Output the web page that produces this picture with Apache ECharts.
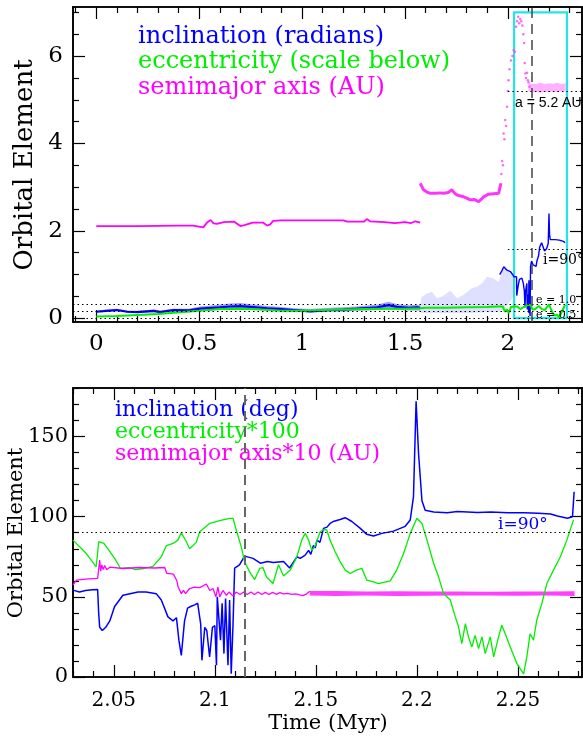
<!DOCTYPE html>
<html>
<head>
<meta charset="utf-8">
<script src="https://cdn.jsdelivr.net/npm/echarts@6/dist/echarts.min.js"></script>
<style>
html, body { margin: 0; padding: 0; background: #fff; }
#chart { width: 583px; height: 738px; }
</style>
</head>
<body>
<div id="chart"></div>
<script>
// ---------- Upper panel: full integration (time in Myr) ----------
const topXMajor = [0, 0.5, 1, 1.5, 2];
const topXMinor = [-0.1, 0.1, 0.2, 0.3, 0.4, 0.6, 0.7, 0.8, 0.9, 1.1, 1.2, 1.3, 1.4, 1.6, 1.7, 1.8, 1.9, 2.1, 2.2, 2.3];
const topYMajor = [0, 2, 4, 6];
const topYMinor = [0.5, 1, 1.5, 2.5, 3, 3.5, 4.5, 5, 5.5, 6.5, 7];

// inclination (radians), dense early track
const incTopX = [0, 0.05, 0.1, 0.15, 0.2, 0.28, 0.31, 0.375, 0.45, 0.505, 0.6, 0.65, 0.7, 0.75, 0.83, 0.9, 0.96, 1.04, 1.137, 1.2, 1.267, 1.33, 1.364, 1.42, 1.461, 1.52, 1.558, 1.574];
const incTopY = [0.15, 0.17, 0.19, 0.15, 0.14, 0.17, 0.14, 0.19, 0.18, 0.22, 0.25, 0.27, 0.28, 0.26, 0.23, 0.21, 0.19, 0.16, 0.19, 0.2, 0.22, 0.24, 0.25, 0.3, 0.26, 0.24, 0.25, 0.24];
const incTopHi = [0.17, 0.2, 0.22, 0.18, 0.17, 0.2, 0.18, 0.22, 0.22, 0.27, 0.31, 0.34, 0.35, 0.32, 0.28, 0.26, 0.23, 0.21, 0.24, 0.25, 0.27, 0.3, 0.31, 0.38, 0.32, 0.3, 0.31, 0.3];
const incTopLo = [0.13, 0.15, 0.16, 0.13, 0.12, 0.14, 0.12, 0.15, 0.14, 0.17, 0.19, 0.2, 0.21, 0.2, 0.18, 0.16, 0.15, 0.13, 0.15, 0.15, 0.17, 0.18, 0.19, 0.2, 0.19, 0.18, 0.18, 0.17];

// inclination (radians), scattered cloud after the first jump
const incCloudX = [1.574, 1.58, 1.607, 1.631, 1.655, 1.68, 1.72, 1.753, 1.785, 1.825, 1.85, 1.875, 1.898, 1.93, 1.955, 1.98, 1.996, 2.012, 2.03];
const incCloudHi = [0.3, 0.49, 0.57, 0.61, 0.46, 0.5, 0.63, 0.46, 0.54, 0.69, 0.72, 0.8, 0.95, 0.91, 0.83, 1.18, 1.1, 1.03, 0.98];
const incCloudLo = [0.17, 0.12, 0.12, 0.12, 0.12, 0.12, 0.12, 0.12, 0.12, 0.12, 0.13, 0.13, 0.14, 0.14, 0.15, 0.2, 0.3, 0.4, 0.5];

// inclination (radians), late evolution
const incLateX = [1.96, 1.97, 1.98, 1.987, 1.996, 2.005, 2.012, 2.02, 2.03, 2.036, 2.042, 2.043, 2.05, 2.056, 2.068, 2.075, 2.08, 2.083, 2.086, 2.092, 2.094, 2.098, 2.101, 2.102, 2.106, 2.108, 2.11, 2.115, 2.123, 2.13, 2.137, 2.141, 2.149, 2.154, 2.158, 2.164, 2.172, 2.178, 2.188, 2.196, 2.1996, 2.2025, 2.206, 2.23, 2.25, 2.27, 2.2778];
const incLateY = [1.0, 1.08, 1.18, 1.15, 1.1, 1.12, 1.07, 1.02, 0.95, 0.95, 0.95, 0.52, 0.75, 0.89, 0.92, 0.8, 0.62, 0.25, 0.63, 0.8, 0.2, 0.55, 0.13, 0.87, 0.15, 0.05, 1.19, 1.31, 1.22, 1.25, 1.19, 1.31, 1.43, 1.62, 1.67, 1.73, 1.62, 1.54, 1.59, 1.71, 2.4, 1.92, 1.8, 1.8, 1.79, 1.76, 1.73];

// eccentricity (scaled)
const eccTopX = [0, 0.1, 0.2, 0.3, 0.41, 0.5, 0.6, 0.7, 0.8, 0.9, 1.0, 1.1, 1.2, 1.3, 1.4, 1.5, 1.574, 1.6, 1.7, 1.8, 1.9, 1.95, 1.975, 1.985, 1.995, 2.005, 2.015, 2.03, 2.045, 2.06, 2.075, 2.085, 2.1, 2.11, 2.12, 2.13, 2.14, 2.15, 2.165, 2.18, 2.2, 2.21, 2.22, 2.23, 2.24, 2.25, 2.26, 2.27, 2.278];
const eccTopY = [0.04, 0.05, 0.075, 0.1, 0.14, 0.17, 0.21, 0.22, 0.2, 0.17, 0.17, 0.19, 0.2, 0.21, 0.22, 0.22, 0.23, 0.24, 0.24, 0.25, 0.26, 0.27, 0.27, 0.15, 0.2, 0.12, 0.26, 0.27, 0.27, 0.21, 0.25, 0.28, 0.31, 0.3, 0.2, 0.2, 0.24, 0.28, 0.21, 0.19, 0.32, 0.2, 0.1, 0.065, 0.08, 0.02, 0.13, 0.23, 0.31];

// semimajor axis (AU)
const smaTop1X = [0, 0.2, 0.4, 0.47, 0.52, 0.54, 0.555, 0.57, 0.586, 0.62, 0.67, 0.7, 0.72, 0.76, 0.81, 0.83, 0.845, 0.86, 0.9, 1.0, 1.1, 1.2, 1.22, 1.3, 1.315, 1.33, 1.4, 1.45, 1.5, 1.53, 1.55, 1.574];
const smaTop1Y = [2.11, 2.11, 2.12, 2.12, 2.08, 2.2, 2.25, 2.17, 2.16, 2.2, 2.21, 2.11, 2.13, 2.19, 2.19, 2.12, 2.15, 2.23, 2.24, 2.24, 2.24, 2.24, 2.21, 2.21, 2.27, 2.22, 2.2, 2.18, 2.2, 2.18, 2.22, 2.19];
const smaTop2X = [1.574, 1.59, 1.61, 1.623, 1.65, 1.67, 1.688, 1.71, 1.728, 1.74, 1.753, 1.77, 1.785, 1.8, 1.817, 1.835, 1.858, 1.87, 1.882, 1.906, 1.93, 1.955, 1.966];
const smaTop2Y = [3.09, 2.94, 2.88, 2.86, 2.86, 2.87, 2.86, 2.88, 2.94, 2.87, 2.82, 2.8, 2.78, 2.75, 2.71, 2.72, 2.67, 2.72, 2.78, 2.84, 2.85, 2.86, 3.09];
const smaDotsX = [1.968, 1.972, 1.976, 1.979, 1.983, 1.987, 1.991, 1.996, 2.0, 2.003, 2.008, 2.015, 2.022, 2.028, 2.034, 2.04, 2.045, 2.05, 2.055, 2.06, 2.065, 2.07, 2.075, 2.079, 2.082, 2.085, 2.088, 2.093, 2.097, 2.1, 2.105];
const smaDotsY = [3.3, 3.6, 3.5, 4.23, 4.1, 4.54, 4.4, 4.84, 5.2, 5.45, 5.7, 5.9, 6.0, 6.14, 6.1, 6.67, 6.8, 6.9, 6.75, 6.85, 6.8, 6.7, 6.5, 6.3, 5.84, 5.6, 5.5, 5.62, 5.45, 5.4, 5.3];
const smaBandX = [2.1, 2.12, 2.14, 2.16, 2.18, 2.2, 2.22, 2.24, 2.26, 2.28];
const smaBandLo = [5.2, 5.18, 5.18, 5.17, 5.19, 5.18, 5.19, 5.18, 5.2, 5.19];
const smaBandHi = [5.38, 5.36, 5.37, 5.39, 5.36, 5.38, 5.37, 5.39, 5.36, 5.38];

// reference levels in the upper panel
const eLevels = [0.32, 0.16, 0];      // e = 1.0, e = 0.5, e = 0
const aRef = 5.2;
const iRef = Math.PI / 2;
const zoomStart = 2.03, zoomEnd = 2.287, zoomTop = 7.0, zoomBottom = 0.005;
const ejectT = 2.115;

// ---------- Lower panel: zoom on the final stage ----------
const botXMajor = [2.05, 2.1, 2.15, 2.2, 2.25];
const botXMinor = [2.03, 2.04, 2.06, 2.07, 2.08, 2.09, 2.11, 2.12, 2.13, 2.14, 2.16, 2.17, 2.18, 2.19, 2.21, 2.22, 2.23, 2.24, 2.26, 2.27, 2.28];
const botYMajor = [0, 50, 100, 150];
const botYMinor = [10, 20, 30, 40, 60, 70, 80, 90, 110, 120, 130, 140, 160, 170, 180];

// inclination (deg)
const incDegX = [2.0298, 2.033, 2.036, 2.0395, 2.042, 2.0425, 2.043, 2.0443, 2.046, 2.048, 2.0504, 2.0545, 2.058, 2.062, 2.066, 2.071, 2.0735, 2.0768, 2.0793, 2.081, 2.0822, 2.0834, 2.085, 2.0865, 2.088, 2.09, 2.0915, 2.093, 2.0936, 2.095, 2.096, 2.0974, 2.0988, 2.1, 2.1008, 2.1012, 2.1028, 2.1036, 2.1045, 2.1053, 2.1065, 2.1073, 2.1081, 2.109, 2.1098, 2.1122, 2.1147, 2.1189, 2.1225, 2.126, 2.129, 2.134, 2.137, 2.1406, 2.1423, 2.1447, 2.1464, 2.1475, 2.1488, 2.1497, 2.1505, 2.152, 2.1538, 2.1555, 2.157, 2.159, 2.162, 2.1645, 2.1678, 2.172, 2.1752, 2.1785, 2.1827, 2.1884, 2.1942, 2.1967, 2.1983, 2.1996, 2.2008, 2.2025, 2.2041, 2.2083, 2.215, 2.22, 2.23, 2.2365, 2.245, 2.253, 2.26, 2.2662, 2.2695, 2.2745, 2.277, 2.2778];
const incDegY = [54.2, 53, 54, 54.5, 54.6, 40, 31, 29, 31, 35, 44, 51, 52, 53, 53, 52, 48, 37.5, 35, 37, 23, 13.5, 35, 43, 44, 45, 46, 33, 10.4, 31, 29, 12.5, 31, 32, 7.3, 50, 23, 46, 14.6, 49, 7.3, 48, 2, 33, 68, 70, 75.4, 74, 71, 72, 71.5, 72, 68, 75, 74, 76, 79, 76.5, 82, 80.5, 85.4, 84, 92.7, 93.5, 95.8, 97.2, 98.3, 99.4, 97, 92.7, 89, 88, 89.6, 91, 94, 98, 112.5, 172, 139.6, 110, 104, 103, 102.5, 103.2, 102.6, 103, 102.4, 102.5, 102.2, 101.7, 100.4, 99, 100, 115.6];

// eccentricity * 100
const ecc100X = [2.0298, 2.0364, 2.0413, 2.0422, 2.0425, 2.0451, 2.0476, 2.0509, 2.0533, 2.0574, 2.0608, 2.065, 2.0694, 2.0735, 2.076, 2.0793, 2.0817, 2.0834, 2.0859, 2.0875, 2.0908, 2.0925, 2.0974, 2.1024, 2.1073, 2.109, 2.1106, 2.1131, 2.1147, 2.1172, 2.1197, 2.1222, 2.1238, 2.1255, 2.1288, 2.1315, 2.134, 2.1373, 2.1406, 2.143, 2.1447, 2.1464, 2.148, 2.1497, 2.1521, 2.1538, 2.1554, 2.157, 2.1596, 2.162, 2.1645, 2.167, 2.17, 2.1728, 2.1752, 2.1785, 2.181, 2.1868, 2.19, 2.1934, 2.1967, 2.2, 2.2025, 2.205, 2.2083, 2.2107, 2.2132, 2.2165, 2.219, 2.2206, 2.2222, 2.224, 2.2255, 2.2272, 2.2288, 2.2305, 2.2322, 2.2338, 2.2363, 2.238, 2.2404, 2.242, 2.2437, 2.2462, 2.2495, 2.2528, 2.2544, 2.256, 2.2577, 2.2593, 2.2618, 2.2643, 2.2676, 2.271, 2.2742, 2.2775];
const ecc100Y = [85.4, 77, 68.75, 67.7, 84.4, 83.3, 79, 73, 67.7, 68.3, 67, 67.7, 69, 75, 82, 83.3, 85.4, 90, 84.4, 80, 84, 90.6, 95.8, 97.5, 99, 99, 91.7, 81, 72, 65.6, 60.8, 67.7, 68.3, 62.5, 58.3, 70, 63, 66.7, 75, 85.4, 89.6, 85.4, 79, 82, 90.6, 92, 91.7, 85.4, 78, 72, 66.7, 64.6, 66.7, 67.7, 60.4, 59.4, 58.3, 60, 66.7, 77, 89.6, 99, 95.8, 85.4, 70.8, 62.5, 52, 48, 37.5, 31.25, 20.8, 33.3, 25, 18.75, 26, 17.7, 25, 14.6, 25, 12.5, 25, 32.3, 27, 18.75, 8.3, 2, 12.5, 27, 23, 35.4, 45.8, 58.3, 66.7, 75, 85.4, 98];

// semimajor axis * 10 (AU)
const sma10X = [2.0298, 2.0315, 2.036, 2.042, 2.0428, 2.043, 2.0435, 2.044, 2.0447, 2.0455, 2.0465, 2.048, 2.0545, 2.0628, 2.07, 2.0752, 2.0762, 2.0795, 2.0812, 2.0818, 2.0834, 2.0845, 2.0855, 2.0875, 2.09, 2.0925, 2.0958, 2.0975, 2.0991, 2.1005, 2.1015, 2.1024, 2.104, 2.1057, 2.107, 2.109, 2.1105, 2.1125, 2.1143, 2.116, 2.1178, 2.1196, 2.1214, 2.1232, 2.125, 2.1268, 2.1286, 2.1304, 2.1322, 2.134, 2.136, 2.138, 2.14, 2.142, 2.1435, 2.145, 2.147];
const sma10Y = [57.3, 60.4, 61, 61.5, 61.5, 73, 66, 70, 67, 69.5, 67, 68.5, 67.7, 68.3, 68, 68.3, 64.6, 64.2, 60, 56.3, 52, 54, 52, 55.2, 56, 55.8, 58, 54, 55.2, 50, 56, 50, 54, 51, 53, 50.5, 53, 51.5, 53, 51.5, 53, 51.5, 53, 51.5, 52.8, 51.5, 52.8, 51.6, 52.6, 51.8, 52.2, 51.5, 51.8, 51.2, 50.8, 51.5, 53.5];
const sma10BandX = [2.147, 2.16, 2.175, 2.19, 2.205, 2.22, 2.235, 2.25, 2.265, 2.278];
const sma10BandLo = [50.8, 50.5, 50.8, 50.6, 50.7, 50.8, 50.9, 50.7, 50.8, 50.6];
const sma10BandHi = [53.6, 53.7, 53.3, 53.5, 53.4, 53.3, 53.2, 53.4, 53.3, 53.5];

const iRefDeg = 90;

// ---------- helpers ----------
const pairs = (xs, ys) => xs.map((x, i) => [x, ys[i]]);
const SERIF = 'DejaVu Serif';

function axis(gi, pos, min, max, ticks, len, labelSize, margin) {
  return {
    type: 'value', gridIndex: gi, position: pos, min: min, max: max,
    axisLine: { show: true, onZero: false, lineStyle: { color: '#000', width: 1.6 } },
    axisTick: { show: true, inside: true, length: len, customValues: ticks, lineStyle: { color: '#000', width: 1.2 } },
    axisLabel: labelSize ? { show: true, customValues: ticks, fontFamily: SERIF, fontSize: labelSize, color: '#000', margin: margin }
                         : { show: false },
    splitLine: { show: false }, minorTick: { show: false }
  };
}

function lineSeries(xi, yi, data, color, width, z) {
  return {
    type: 'line', xAxisIndex: xi, yAxisIndex: yi, data: data, showSymbol: false, symbol: 'none',
    lineStyle: { color: color, width: width }, z: z || 2, silent: true, animation: false
  };
}

function bandSeries(xi, yi, xs, lo, hi, fill, z) {
  return {
    type: 'custom', xAxisIndex: xi, yAxisIndex: yi, z: z || 1, silent: true, animation: false,
    data: [[xs[0], lo[0]]],
    renderItem: function (params, api) {
      const upper = xs.map((x, i) => api.coord([x, hi[i]]));
      const lower = xs.map((x, i) => api.coord([x, lo[i]])).reverse();
      return { type: 'polygon', shape: { points: upper.concat(lower) }, style: { fill: fill } };
    }
  };
}

const T = { xmin: -0.1132, xmax: 2.3601, ymin: -0.085, ymax: 7.124 };
const B = { xmin: 2.0298, xmax: 2.2817, ymin: 0, ymax: 180.3 };

const dotted = { color: '#000', width: 1, type: [1.5, 3] };

const option = {
  backgroundColor: '#fff',
  animation: false,
  grid: [
    { left: 73, top: 7, width: 509, height: 315 },
    { left: 73, top: 388, width: 509, height: 289 }
  ],
  xAxis: [
    axis(0, 'bottom', T.xmin, T.xmax, topXMajor, 12, 23, 11),
    axis(0, 'bottom', T.xmin, T.xmax, topXMinor, 6),
    axis(0, 'top', T.xmin, T.xmax, topXMajor, 12),
    axis(0, 'top', T.xmin, T.xmax, topXMinor, 6),
    axis(1, 'bottom', B.xmin, B.xmax, botXMajor, 12, 20, 14),
    axis(1, 'bottom', B.xmin, B.xmax, botXMinor, 6),
    axis(1, 'top', B.xmin, B.xmax, botXMajor, 12),
    axis(1, 'top', B.xmin, B.xmax, botXMinor, 6)
  ],
  yAxis: [
    axis(0, 'left', T.ymin, T.ymax, topYMajor, 12, 23, 10),
    axis(0, 'left', T.ymin, T.ymax, topYMinor, 6),
    axis(0, 'right', T.ymin, T.ymax, topYMajor, 12),
    axis(0, 'right', T.ymin, T.ymax, topYMinor, 6),
    axis(1, 'left', B.ymin, B.ymax, botYMajor, 12, 21, 5),
    axis(1, 'left', B.ymin, B.ymax, botYMinor, 6),
    axis(1, 'right', B.ymin, B.ymax, botYMajor, 12),
    axis(1, 'right', B.ymin, B.ymax, botYMinor, 6)
  ],
  series: [
    // ----- upper panel -----
    bandSeries(0, 0, incCloudX, incCloudLo, incCloudHi, 'rgba(110,110,255,0.22)', 1),
    bandSeries(0, 0, incTopX, incTopLo, incTopHi, 'rgba(60,60,255,0.5)', 1),
    lineSeries(0, 0, pairs(incTopX, incTopY), '#0000ff', 2.2, 3),
    lineSeries(0, 0, pairs(incLateX, incLateY), '#0000ff', 1.4, 3),
    lineSeries(0, 0, pairs(smaTop1X, smaTop1Y), '#ff00ff', 1.8, 3),
    lineSeries(0, 0, pairs(smaTop2X, smaTop2Y), 'rgba(255,0,255,0.8)', 3, 3),
    {
      type: 'scatter', xAxisIndex: 0, yAxisIndex: 0, data: pairs(smaDotsX, smaDotsY),
      symbolSize: 2.5, itemStyle: { color: '#ff44ff' }, silent: true, animation: false, z: 3
    },
    bandSeries(0, 0, smaBandX, smaBandLo, smaBandHi, 'rgba(255,60,255,0.4)', 2),
    Object.assign(lineSeries(0, 0, pairs(eccTopX, eccTopY), '#00ee00', 2, 4), {
      markLine: {
        silent: true, symbol: 'none', label: { show: false }, animation: false,
        data: [
          [{ coord: [T.xmin, eLevels[0]], lineStyle: dotted }, { coord: [T.xmax, eLevels[0]] }],
          [{ coord: [T.xmin, eLevels[1]], lineStyle: dotted }, { coord: [T.xmax, eLevels[1]] }],
          [{ coord: [T.xmin, eLevels[2]], lineStyle: dotted }, { coord: [T.xmax, eLevels[2]] }],
          [{ coord: [2.0, aRef], lineStyle: dotted }, { coord: [T.xmax, aRef] }],
          [{ coord: [2.0, iRef], lineStyle: dotted }, { coord: [T.xmax, iRef] }],
          [{ coord: [ejectT, T.ymin], lineStyle: { color: '#444', width: 1.5, type: [10, 6] } }, { coord: [ejectT, T.ymax] }]
        ]
      },
      markArea: {
        silent: true, animation: false,
        itemStyle: { color: 'rgba(0,0,0,0)', borderColor: '#22e6e6', borderWidth: 2.2 },
        data: [[{ coord: [zoomStart, zoomBottom] }, { coord: [zoomEnd, zoomTop] }]]
      }
    }),
    // ----- lower panel -----
    Object.assign(lineSeries(4, 4, pairs(incDegX, incDegY), '#0000ff', 1.5, 3), {
      markLine: {
        silent: true, symbol: 'none', label: { show: false }, animation: false,
        data: [
          [{ coord: [B.xmin, iRefDeg], lineStyle: dotted }, { coord: [B.xmax, iRefDeg] }],
          [{ coord: [ejectT, B.ymin], lineStyle: { color: '#666', width: 2, type: [10, 6] } }, { coord: [ejectT, B.ymax] }]
        ]
      }
    }),
    lineSeries(4, 4, pairs(ecc100X, ecc100Y), '#00ee00', 1.3, 3),
    bandSeries(4, 4, sma10BandX, sma10BandLo, sma10BandHi, 'rgba(255,0,255,0.75)', 3),
    lineSeries(4, 4, pairs(sma10X, sma10Y), '#ff00ff', 1.3, 4)
  ],
  graphic: [
    // axis titles
    { type: 'text', x: 25, y: 165, rotation: Math.PI / 2,
      style: { text: 'Orbital Element', font: '26px "DejaVu Serif"', fill: '#000', align: 'center', verticalAlign: 'middle' } },
    { type: 'text', x: 17, y: 533, rotation: Math.PI / 2,
      style: { text: 'Orbital Element', font: '21px "DejaVu Serif"', fill: '#000', align: 'center', verticalAlign: 'middle' } },
    { type: 'text', x: 328, y: 724,
      style: { text: 'Time (Myr)', font: '21px "DejaVu Serif"', fill: '#000', align: 'center', verticalAlign: 'middle' } },
    // upper legend
    { type: 'text', x: 138, y: 37, style: { text: 'inclination (radians)', font: '24px "DejaVu Serif"', fill: '#0000ff', verticalAlign: 'middle' } },
    { type: 'text', x: 138, y: 62, style: { text: 'eccentricity (scale below)', font: '24px "DejaVu Serif"', fill: '#00ee00', verticalAlign: 'middle' } },
    { type: 'text', x: 138, y: 88, style: { text: 'semimajor axis (AU)', font: '24px "DejaVu Serif"', fill: '#ff00ff', verticalAlign: 'middle' } },
    // upper annotations
    { type: 'text', x: 515, y: 103, z: 20, style: { text: 'a = 5.2 AU', font: '14px "Liberation Sans"', fill: '#000', verticalAlign: 'middle' } },
    { type: 'text', x: 543, y: 260, z: 20, style: { text: 'i=90°', font: '14px "DejaVu Serif"', fill: '#000', verticalAlign: 'middle' } },
    { type: 'text', x: 536, y: 300, z: 20, style: { text: 'e = 1.0', font: '11px "DejaVu Serif"', fill: '#000', verticalAlign: 'middle' } },
    { type: 'text', x: 536, y: 315, z: 20, style: { text: 'e = 0.5', font: '11px "DejaVu Serif"', fill: '#000', verticalAlign: 'middle' } },
    // lower legend
    { type: 'text', x: 115, y: 410, style: { text: 'inclination (deg)', font: '22px "DejaVu Serif"', fill: '#0000ff', verticalAlign: 'middle' } },
    { type: 'text', x: 115, y: 432, style: { text: 'eccentricity*100', font: '22px "DejaVu Serif"', fill: '#00ee00', verticalAlign: 'middle' } },
    { type: 'text', x: 115, y: 454, style: { text: 'semimajor axis*10 (AU)', font: '22px "DejaVu Serif"', fill: '#ff00ff', verticalAlign: 'middle' } },
    { type: 'text', x: 498, y: 525, z: 20, style: { text: 'i=90°', font: '17px "DejaVu Serif"', fill: '#0000ff', verticalAlign: 'middle' } }
  ]
};

const chart = echarts.init(document.getElementById('chart'), null, { renderer: 'canvas' });
chart.setOption(option);
</script>
</body>
</html>
